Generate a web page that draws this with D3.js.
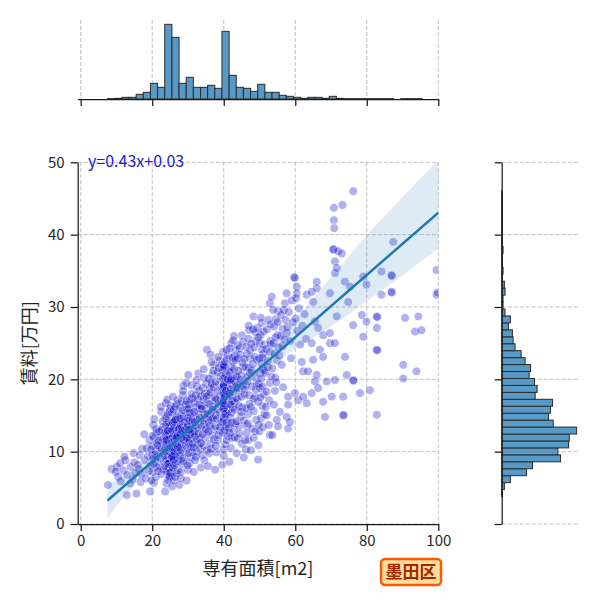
<!DOCTYPE html>
<html>
<head>
<meta charset="utf-8">
<script src="https://cdn.jsdelivr.net/npm/d3@7"></script>
<style>
    body { margin: 0; background: #fff; }
    svg { display: block; }
    text { font-family: "Noto Sans CJK JP", "Noto Sans", sans-serif; }
</style>
</head>
<body>
<svg id="chart" width="600" height="600"></svg>
<script>
// ticks
const xTicks = [0, 20, 40, 60, 80, 100];
const yTicks = [0, 10, 20, 30, 40, 50];

// marginal histogram of 専有面積 (bin edges start 7.5, width 2)
const areaBinStart = 7.5;
const areaBinWidth = 2;
const areaCounts = [1, 2, 5, 5, 14, 20, 47, 35, 224, 185, 47, 65, 35, 35, 41, 32, 203, 71, 35, 32,
    23, 44, 20, 20, 11, 8, 5, 2, 5, 5, 2, 8, 2, 1, 1, 1, 1, 1, 1, 1, 0, 1, 1, 1];

// marginal histogram of 賃料 (bin edges start 3.8, width 0.96)
const rentBinStart = 3.8;
const rentBinWidth = 0.96;
const rentCounts = [1, 4, 13, 37, 46, 88, 84, 100, 101, 112, 77, 70, 73, 76, 50, 53, 49, 41, 43, 35,
    29, 20, 17, 16, 10, 13, 5, 2, 2, 5, 4, 1, 2, 1, 1, 2, 1, 1, 1, 1, 1, 1, 1, 1];

// regression y=0.43x+0.03
const regSlope = 0.43;
const regIntercept = 0.03;
const regXRange = [7.5, 100];

// confidence band
const bandX = [7.5, 12, 20, 30, 40, 50, 60, 70, 80, 90, 100];
const bandLow = [0.8, 3.7, 7.8, 12.5, 16.8, 20.7, 24.2, 27.3, 30.8, 34.4, 38.1];
const bandHigh = [5.5, 6.7, 9.4, 13.35, 17.7, 22.6, 28.2, 34.1, 39.9, 45.2, 50.3];

// [専有面積, 賃料]
const points = [
    [7.6,5.4],[8.6,7.6],[10.1,7.9],[10.5,6.5],[11.0,8.4],[9.8,7.2],[11.2,5.9],
    [12.0,7.4],[12.5,8.8],[12.9,4.0],[13.0,6.8],[12.2,9.3],
    [14.0,7.9],[14.5,6.2],[15.0,8.5],[14.8,9.8],[13.8,5.6],[15.2,7.1],
    [15.6,4.2],[16.0,8.2],[16.5,9.5],[17.0,6.9],[16.2,7.6],[17.2,10.4],[16.8,5.8],
    [18.0,8.8],[18.5,10.5],[19.0,7.3],[19.4,4.5],[18.2,6.3],[19.2,11.6],[18.8,9.4],[17.8,12.4],
    [19.6,8.1],[20.0,9.5],[20.0,10.8],[20.0,7.2],[20.3,13.7],[20.5,5.7],[20.5,11.9],[20.8,8.7],
    [21.0,10.1],[21.0,6.5],[21.2,12.6],[20.2,9.0],[21.4,7.8],[20.6,14.5],[21.3,11.2],[19.8,6.0],
    [21.6,9.3],[22.0,10.6],[22.0,8.0],[22.3,12.1],[22.5,15.5],[22.6,6.9],[22.8,11.3],[23.0,9.7],
    [23.0,13.4],[23.2,7.5],[22.4,16.2],[23.4,10.2],
    [19.7,10.3],[20.1,12.2],[20.4,8.3],[20.9,9.6],[21.1,13.1],[21.5,10.9],[21.7,7.3],[21.9,12.8],
    [22.1,9.1],[22.6,10.4],[22.9,14.2],[23.1,11.8],[23.3,8.6],[22.7,13.0],[21.8,11.5],
    [23.6,4.5],[24.0,5.6],[24.4,6.1],[24.8,6.4],[25.0,6.8],[25.2,7.0],[23.8,7.3],[24.2,7.5],[24.6,7.7],[25.4,7.9],
    [23.6,8.0],[24.0,8.2],[24.4,8.3],[24.8,8.5],[25.0,8.6],[25.2,8.8],[23.8,8.9],[24.2,9.0],[24.6,9.1],[25.4,9.2],
    [23.6,9.4],[24.0,9.5],[24.4,9.6],[24.8,9.7],[25.0,9.8],[25.2,9.9],[23.8,10.0],[24.2,10.1],[24.6,10.2],[25.4,10.3],
    [23.6,10.4],[24.0,10.5],[24.4,10.6],[24.8,10.7],[25.0,10.8],[25.2,10.9],[23.8,11.0],[24.2,11.1],[24.6,11.2],[25.4,11.3],
    [23.6,11.4],[24.0,11.5],[24.4,11.6],[24.8,11.8],[25.0,11.9],[25.2,12.0],[23.8,12.1],[24.2,12.3],[24.6,12.4],[25.4,12.5],
    [23.6,12.7],[24.0,12.8],[24.4,13.0],[24.8,13.1],[25.0,13.3],[25.2,13.5],[23.8,13.7],[24.2,13.9],[24.6,14.1],[25.4,14.3],
    [23.6,14.6],[24.0,14.9],[24.4,15.2],[24.8,15.5],[25.0,15.9],[25.2,16.3],[23.8,16.7],[24.2,17.2],[24.6,8.4],[25.4,9.3],
    [25.0,10.5],[24.0,11.7],[25.0,7.1],[24.4,12.9],[24.8,6.6],
    [25.6,5.2],[26.0,6.0],[26.4,6.5],[26.8,7.0],[27.2,7.4],[25.8,7.8],[26.2,8.1],[26.6,8.4],[27.0,8.7],[27.4,9.0],
    [25.6,9.2],[26.0,9.5],[26.4,9.7],[26.8,9.9],[27.2,10.1],[25.8,10.3],[26.2,10.5],[26.6,10.7],[27.0,10.9],[27.4,11.1],
    [25.6,11.3],[26.0,11.5],[26.4,11.6],[26.8,11.8],[27.2,12.0],[25.8,12.1],[26.2,12.3],[26.6,12.5],[27.0,12.6],[27.4,12.8],
    [25.6,13.0],[26.0,13.2],[26.4,13.4],[26.8,13.6],[27.2,13.8],[25.8,14.0],[26.2,14.2],[26.6,14.5],[27.0,14.8],[27.4,15.1],
    [25.6,15.4],[26.0,15.8],[26.4,16.2],[26.8,16.6],[27.2,17.1],[25.8,17.6],[26.2,10.0],[26.6,11.0],[27.0,12.2],[27.4,13.1],
    [25.6,9.4],[26.0,8.9],[26.4,14.4],[26.8,11.9],[27.2,10.6],
    [27.6,5.4],[28.0,7.2],[28.4,8.3],[28.8,9.1],[29.2,9.8],[27.8,10.5],[28.2,11.1],[28.6,11.7],[29.0,12.2],[29.4,12.7],
    [27.6,13.2],[28.0,13.7],[28.4,14.2],[28.8,14.8],[29.2,15.4],[27.8,16.1],[28.2,16.9],[28.6,17.8],[28.7,19.1],[29.0,12.0],
    [27.7,9.4],[27.9,12.4],[28.1,10.2],[28.3,13.3],[28.5,15.7],[28.7,8.7],[28.9,11.6],[29.1,14.1],[29.3,16.5],[29.4,10.9],
    [28.0,6.3],[28.6,18.4],[29.2,13.0],[27.9,14.6],[28.4,12.9],
    [29.6,6.0],[30.0,7.5],[30.4,8.4],[30.8,9.2],[31.2,9.9],[29.8,10.6],[30.2,11.2],[30.6,11.8],[31.0,12.3],[31.4,12.8],
    [29.6,13.3],[30.0,13.8],[30.4,14.3],[30.8,14.8],[31.2,15.3],[29.8,15.9],[30.2,16.5],[30.6,17.2],[31.0,18.0],[29.5,19.5],
    [30.1,20.6],[31.4,12.6],[30.0,13.6],[30.5,11.5],[31.0,14.0],
    [29.7,11.9],[29.9,14.6],[30.3,9.8],[30.3,16.0],[30.7,13.1],[30.9,10.6],[31.1,17.4],[31.3,14.5],[29.9,8.1],[30.5,15.4],
    [31.0,19.2],[30.6,12.4],[29.6,17.0],[31.4,11.1],[30.2,13.0],
    [31.6,7.2],[32.0,8.8],[32.4,10.0],[32.8,11.0],[33.2,11.9],[31.8,12.8],[32.2,13.6],[32.6,14.4],[33.0,15.1],[33.4,15.9],
    [31.7,16.8],[32.1,17.8],[32.5,19.0],[32.9,20.8],
    [31.6,10.6],[31.9,14.1],[32.0,12.1],[32.3,16.2],[32.5,11.7],[32.7,17.3],[32.9,13.3],[33.1,18.4],[33.3,14.7],[33.4,10.4],
    [31.8,15.5],[32.4,19.9],[33.0,12.5],[32.2,9.3],[33.2,16.5],
    [33.6,7.8],[34.0,9.5],[34.4,10.8],[34.8,11.8],[35.2,12.7],[33.8,13.5],[34.2,14.3],[34.6,15.1],[35.0,15.9],[35.4,16.8],
    [33.7,17.7],[34.1,18.8],[34.5,20.2],[35.3,24.1],
    [33.6,11.2],[33.9,15.9],[34.1,12.4],[34.3,17.2],[34.5,13.8],[34.7,18.0],[34.9,14.6],[35.1,19.4],[35.3,10.2],[35.4,15.2],
    [33.8,16.3],[34.4,21.4],[35.0,13.1],[34.6,8.8],[35.2,17.6],
    [35.6,8.0],[36.0,9.8],[36.4,11.1],[36.8,12.2],[37.2,13.1],[35.8,14.0],[36.2,14.8],[36.6,15.5],[37.0,16.2],[37.4,17.0],
    [35.7,17.8],[36.1,18.7],[36.5,19.6],[36.9,20.7],[37.3,22.0],[36.3,23.4],
    [35.7,12.8],[35.9,16.6],[36.1,13.6],[36.3,18.2],[36.5,14.4],[36.7,19.3],[36.9,15.8],[37.1,21.2],[37.3,11.7],[37.5,17.5],
    [35.8,20.1],[36.4,10.4],[37.0,14.6],[36.6,22.4],[37.2,18.9],
    [37.6,7.5],[38.0,9.9],[38.4,11.6],[38.8,12.9],[39.2,14.0],[37.8,15.0],[38.2,15.9],[38.6,16.8],[39.0,17.7],[39.4,18.6],
    [37.7,19.7],[38.3,21.0],[38.9,22.6],
    [37.6,13.5],[37.9,17.3],[38.1,14.5],[38.3,18.4],[38.5,12.3],[38.7,19.4],[38.9,15.4],[39.1,20.4],[39.3,16.3],[39.4,22.0],
    [37.8,10.8],[38.4,23.1],[39.0,13.4],[38.6,21.6],[39.2,17.1],
    [39.6,8.2],[40.0,9.4],[40.0,10.3],[40.4,11.0],[40.8,11.6],[41.2,12.1],[39.8,12.6],[40.2,13.0],[40.6,13.4],[41.4,13.8],
    [39.6,14.1],[40.0,14.4],[40.0,14.7],[40.4,15.0],[40.8,15.3],[41.2,15.6],[39.8,15.9],[40.2,16.1],[40.6,16.4],[41.4,16.6],
    [39.6,16.9],[40.0,17.1],[40.0,17.3],[40.4,17.5],[40.8,17.7],[41.2,17.9],[39.8,18.1],[40.2,18.3],[40.6,18.5],[41.4,18.7],
    [39.6,18.9],[40.0,19.1],[40.0,19.3],[40.4,19.5],[40.8,19.7],[41.2,19.9],[39.8,20.1],[40.2,20.4],[40.6,20.7],[41.4,21.0],
    [39.6,21.3],[40.0,21.6],[40.0,22.0],[40.4,22.4],[40.8,22.8],[41.2,23.3],[39.8,23.8],[40.8,24.1],[40.0,16.0],[40.0,17.0],
    [40.0,18.0],[40.0,19.0],[40.4,15.2],[40.8,14.0],[41.2,20.0],[39.8,16.7],[40.2,17.6],[40.6,18.4],[41.4,13.2],[40.2,21.8],
    [41.6,8.6],[42.0,10.5],[42.4,11.9],[42.8,13.0],[43.2,13.9],[41.8,14.7],[42.2,15.4],[42.6,16.1],[43.0,16.8],[43.4,17.4],
    [41.6,18.0],[42.0,18.6],[42.4,19.2],[42.8,19.8],[43.2,20.4],[41.8,21.0],[42.2,21.7],[42.6,22.4],[43.0,23.2],[43.4,24.0],
    [42.1,25.0],[42.9,26.0],[41.7,17.7],[43.3,19.5],
    [41.6,12.6],[41.9,16.5],[42.1,20.1],[42.3,14.0],[42.5,23.0],[42.7,18.3],[42.9,21.4],[43.1,15.8],[43.3,22.7],[43.5,19.0],
    [41.7,24.3],[42.4,17.0],[43.0,12.0],[42.6,25.4],[41.9,19.9],
    [43.6,9.8],[44.0,11.8],[44.4,13.5],[44.8,14.9],[45.2,16.1],[43.8,17.3],[44.2,18.4],[44.6,19.5],[45.0,20.6],[45.4,21.7],
    [43.9,22.9],[44.5,24.3],[45.1,26.1],
    [43.6,14.2],[43.9,18.8],[44.1,21.2],[44.3,16.3],[44.6,23.4],[44.8,19.9],[45.0,17.6],[45.2,22.3],[45.4,25.2],[43.7,20.4],
    [44.4,12.5],[44.9,15.5],[45.3,19.1],[44.0,24.7],[45.1,11.1],
    [45.6,9.2],[46.0,11.6],[46.9,11.6],[46.4,13.6],[46.8,15.2],[47.2,16.6],[45.8,17.9],[46.2,19.2],[46.6,20.4],[47.0,21.6],
    [47.4,22.9],[46.3,24.5],[47.1,26.8],
    [45.6,14.3],[45.9,18.6],[46.1,21.7],[46.3,16.0],[46.5,23.5],[46.7,19.7],[46.9,25.6],[47.1,17.8],[47.3,20.9],[47.4,24.0],
    [45.8,22.8],[46.4,12.6],[47.0,27.4],[46.2,10.3],[46.8,13.9],
    [47.6,10.2],[48.0,13.2],[48.4,15.6],[48.8,17.6],[49.2,19.4],[47.8,21.2],[48.6,23.1],[49.0,25.3],[48.3,28.7],
    [47.6,16.2],[47.9,19.0],[48.1,22.1],[48.3,17.3],[48.5,24.4],[48.7,20.3],[48.9,26.5],[49.1,14.4],[49.3,22.7],[49.4,27.1],
    [47.7,24.9],[48.4,11.9],[49.0,18.6],[48.2,26.9],[48.8,12.8],
    [49.6,8.9],[49.7,10.9],[50.0,12.8],[50.4,14.6],[50.8,16.3],[51.2,17.9],[49.8,19.4],[50.2,20.8],[50.6,22.2],[51.0,23.5],
    [51.4,24.8],[50.3,26.1],[50.6,27.8],[50.9,21.5],[50.1,18.8],
    [49.6,16.9],[49.9,22.9],[50.1,25.0],[50.3,17.5],[50.5,20.1],[50.7,24.1],[50.9,19.0],[51.1,26.6],[51.3,21.2],[51.4,15.2],
    [49.7,25.8],[50.4,28.5],[51.0,13.4],[50.8,23.0],[49.8,13.7],
    [52.9,12.3],[52.0,15.0],[52.0,18.3],[52.9,19.5],[52.4,22.5],[53.0,25.3],[52.9,30.5],[53.4,31.4],
    [51.6,20.9],[51.9,24.2],[52.1,26.9],[52.3,21.7],[52.5,28.2],[52.7,17.1],[52.9,23.8],[53.1,27.6],[53.3,20.4],[51.8,16.2],
    [52.6,13.7],[53.2,24.9],
    [53.6,12.3],[54.8,14.4],[55.2,13.5],[54.0,16.5],[54.4,20.2],[54.2,23.5],[55.0,26.1],[54.6,28.3],[55.2,29.4],[55.7,15.5],
    [53.6,21.5],[53.9,25.0],[54.1,27.3],[54.3,18.4],[54.5,25.8],[54.9,22.6],[55.1,27.9],[55.3,24.4],[53.8,29.6],[54.7,19.6],
    [56.2,22.0],[56.5,27.0],[57.1,30.5],[57.6,31.9],[57.6,14.8],[57.6,26.4],
    [55.6,23.3],[55.9,26.0],[56.1,28.9],[56.4,24.6],[56.8,29.6],[57.0,25.5],[57.3,28.2],[56.6,18.9],
    [58.0,13.2],[58.5,14.1],[58.0,16.5],[58.0,17.6],
    [57.8,27.2],[58.2,29.3],[58.6,25.3],[59.0,30.9],[59.3,27.9],[58.8,22.9],
    [59.9,34.0],[60.4,32.8],[60.4,31.9],[60.2,31.2],[59.9,18.1],[60.8,17.1],[59.7,34.1],
    [60.1,28.4],[60.6,26.7],[61.0,29.8],[61.4,24.8],[62.0,27.4],[62.6,29.0],[63.0,25.6],[61.8,22.4],
    [62.2,21.1],[62.2,17.6],[63.2,16.7],[63.2,31.7],[63.6,21.1],[64.6,32.1],[65.0,30.7],[64.6,25.0],[64.6,18.1],[65.0,22.7],
    [65.5,28.0],[65.5,19.7],[66.0,33.5],[66.0,32.6],[66.0,20.6],[66.4,27.1],[66.4,18.8],[66.9,24.1],[67.8,26.1],[67.8,23.1],
    [67.8,16.9],[68.3,14.8],[68.8,19.7],[69.7,26.4],[69.7,25.0],[69.7,31.9],[70.2,17.6],[70.6,37.9],[70.7,38.0],[70.8,43.7],
    [70.8,42.0],[70.9,40.9],[71.1,36.3],[71.1,34.7],[71.1,25.0],[71.1,19.9],[71.6,35.4],[71.6,28.7],[72.0,37.7],[73.0,37.4],
    [73.2,44.1],[73.4,17.6],[73.4,15.1],[73.5,15.0],[73.9,33.5],[73.9,23.1],[74.4,20.6],[74.8,30.7],[75.3,32.8],[76.2,46.0],
    [76.2,27.5],[76.2,19.9],[76.3,19.8],[78.1,18.1],[78.6,28.9],[79.0,34.2],[79.0,25.9],[79.9,33.1],[79.9,28.0],[80.9,18.5],
    [82.8,28.7],[82.9,28.6],[82.8,27.1],[82.8,24.1],[82.9,24.0],[82.8,15.1],[84.1,34.9],[84.1,31.7],[86.9,34.4],[87.0,34.3],
    [86.9,32.1],[87.0,32.0],[87.4,39.0],[90.2,22.0],[90.2,20.1],[90.7,28.5],[93.5,26.6],[93.9,21.1],[94.4,28.7],[95.3,26.8],
    [99.5,35.1],[99.5,31.7],[99.8,32.0]
];

const svg = d3.select("#chart");

// panel boxes
const main = {left: 77.7, right: 438.3, top: 162.3, bottom: 524};
const topPanel = {top: 20, bottom: 99};
const rightPanel = {left: 501.7, right: 580};

const gridColor = "#b0b0b0";
const spineColor = "#1a1a1a";
const tickTextColor = "#262626";
const histFill = "#5799c7";
const histEdge = "#2b2b2b";
const regColor = "#1f77b4";
const pointColor = "#0000cd";

const x = d3.scaleLinear().domain([-0.84, 100]).range([main.left, main.right]);
const y = d3.scaleLinear().domain([0, 50]).range([main.bottom, main.top]);
const yTop = d3.scaleLinear()
    .domain([0, d3.max(areaCounts) * 1.058])
    .range([topPanel.bottom, topPanel.top]);
const xRight = d3.scaleLinear()
    .domain([0, d3.max(rentCounts) * 1.045])
    .range([rightPanel.left, rightPanel.right]);

function styleAxis(g) {
    g.select(".domain").attr("stroke", spineColor).attr("stroke-width", 1.25);
    g.selectAll(".tick line").attr("stroke", spineColor).attr("stroke-width", 1.25);
    g.selectAll(".tick text").attr("fill", tickTextColor).attr("font-size", 15)
        .attr("font-family", '"Noto Sans CJK JP", "Noto Sans", sans-serif');
}

// ---- grid ----
const grid = svg.append("g")
    .attr("stroke", gridColor)
    .attr("stroke-width", 0.8)
    .attr("stroke-dasharray", "4,2");
grid.selectAll(".vx")
    .data(xTicks)
    .join("line")
    .attr("x1", d => x(d)).attr("x2", d => x(d))
    .attr("y1", main.top).attr("y2", main.bottom);
grid.selectAll(".hy")
    .data(yTicks)
    .join("line")
    .attr("class", "hy")
    .attr("x1", main.left).attr("x2", main.right)
    .attr("y1", d => y(d)).attr("y2", d => y(d));
grid.selectAll(".tvx")
    .data(xTicks)
    .join("line")
    .attr("class", "tvx")
    .attr("x1", d => x(d)).attr("x2", d => x(d))
    .attr("y1", topPanel.top).attr("y2", topPanel.bottom);
grid.selectAll(".rhy")
    .data(yTicks)
    .join("line")
    .attr("class", "rhy")
    .attr("x1", rightPanel.left).attr("x2", rightPanel.right)
    .attr("y1", d => y(d)).attr("y2", d => y(d));

// ---- main scatter ----
svg.append("defs").append("clipPath")
    .attr("id", "mainClip")
    .append("rect")
    .attr("x", main.left).attr("y", main.top)
    .attr("width", main.right - main.left)
    .attr("height", main.bottom - main.top);

const plot = svg.append("g").attr("clip-path", "url(#mainClip)");

plot.append("g")
    .selectAll("circle")
    .data(points)
    .join("circle")
    .attr("cx", d => x(d[0]))
    .attr("cy", d => y(d[1]))
    .attr("r", 4.5)
    .attr("fill", pointColor)
    .attr("stroke", "#fff")
    .attr("stroke-width", 1)
    .attr("opacity", 0.3);

// confidence band
const band = bandX.map((bx, i) => [bx, bandLow[i], bandHigh[i]]);
plot.append("path")
    .datum(band)
    .attr("fill", regColor)
    .attr("fill-opacity", 0.15)
    .attr("d", d3.area()
        .x(d => x(d[0]))
        .y0(d => y(d[1]))
        .y1(d => y(d[2]))
        .curve(d3.curveMonotoneX));

// regression line
plot.append("line")
    .attr("x1", x(regXRange[0]))
    .attr("y1", y(regSlope * regXRange[0] + regIntercept))
    .attr("x2", x(regXRange[1]))
    .attr("y2", y(regSlope * regXRange[1] + regIntercept))
    .attr("stroke", regColor)
    .attr("stroke-width", 2.5);

// main axes
svg.append("g")
    .attr("transform", `translate(0,${main.bottom})`)
    .call(d3.axisBottom(x).tickValues(xTicks).tickSize(7).tickPadding(4).tickSizeOuter(0))
    .call(styleAxis);
svg.append("g")
    .attr("transform", `translate(${main.left},0)`)
    .call(d3.axisLeft(y).tickValues(yTicks).tickSize(7).tickPadding(6).tickSizeOuter(0))
    .call(styleAxis);

// ---- top histogram ----
svg.append("g")
    .selectAll("rect")
    .data(areaCounts)
    .join("rect")
    .attr("x", (_d, i) => x(areaBinStart + i * areaBinWidth))
    .attr("width", x(areaBinWidth) - x(0))
    .attr("y", d => yTop(d))
    .attr("height", d => yTop(0) - yTop(d))
    .attr("fill", histFill)
    .attr("stroke", histEdge)
    .attr("stroke-width", 1);
svg.append("g")
    .attr("transform", `translate(0,${topPanel.bottom})`)
    .call(d3.axisBottom(x).tickValues(xTicks).tickSize(7).tickFormat("").tickSizeOuter(0))
    .call(styleAxis);

// ---- right histogram ----
svg.append("g")
    .selectAll("rect")
    .data(rentCounts)
    .join("rect")
    .attr("x", xRight(0))
    .attr("width", d => xRight(d) - xRight(0))
    .attr("y", (_d, i) => y(rentBinStart + (i + 1) * rentBinWidth))
    .attr("height", y(0) - y(rentBinWidth))
    .attr("fill", histFill)
    .attr("stroke", histEdge)
    .attr("stroke-width", 1);
svg.append("g")
    .attr("transform", `translate(${rightPanel.left},0)`)
    .call(d3.axisLeft(y).tickValues(yTicks).tickSize(7).tickFormat("").tickSizeOuter(0))
    .call(styleAxis);

// ---- labels ----
svg.append("text")
    .attr("x", (main.left + main.right) / 2)
    .attr("y", 575)
    .attr("text-anchor", "middle")
    .attr("font-size", 18)
    .attr("fill", tickTextColor)
    .text("専有面積[m2]");

svg.append("text")
    .attr("transform", `translate(36,${(main.top + main.bottom) / 2}) rotate(-90)`)
    .attr("text-anchor", "middle")
    .attr("font-size", 18)
    .attr("fill", tickTextColor)
    .text("賃料[万円]");

svg.append("text")
    .attr("x", 88)
    .attr("y", 166.5)
    .attr("font-size", 16)
    .attr("fill", "#2222cc")
    .text(`y=${regSlope}x+${regIntercept}`);

// ward badge
const badge = svg.append("g");
badge.append("rect")
    .attr("x", 381).attr("y", 559)
    .attr("width", 60).attr("height", 26)
    .attr("rx", 4)
    .attr("fill", "#ffdea0")
    .attr("stroke", "#ff5a00")
    .attr("stroke-width", 2.5);
badge.append("text")
    .attr("x", 411).attr("y", 578)
    .attr("text-anchor", "middle")
    .attr("font-size", 17)
    .attr("font-weight", "bold")
    .attr("fill", "#a32800")
    .text("墨田区");
</script>
</body>
</html>
